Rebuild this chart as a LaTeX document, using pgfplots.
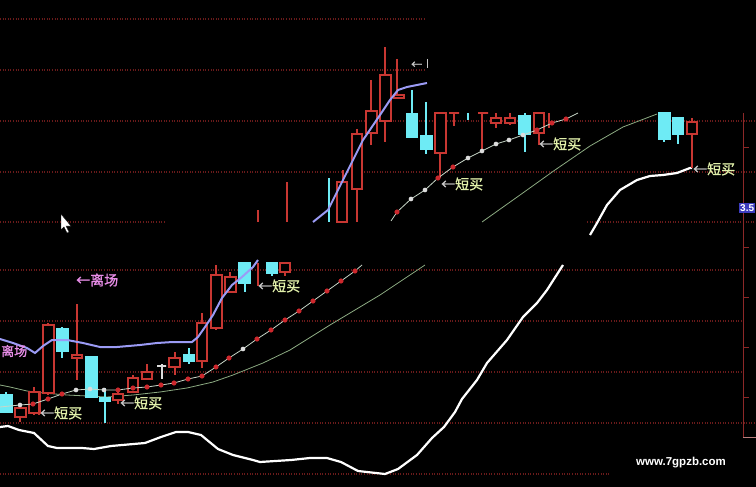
\documentclass[border=0pt]{standalone}
\usepackage{pgfplots}
\pgfplotsset{compat=1.18}
\usepackage{fontspec}
\newfontfamily\cjk{Noto Sans CJK SC}[FakeBold=1.2]
\newfontfamily\wm{Liberation Sans}
\definecolor{gridc}{RGB}{105,26,26}
\definecolor{axc}{RGB}{140,40,40}
\definecolor{cred}{RGB}{200,55,50}
\definecolor{ccyan}{RGB}{110,235,245}
\definecolor{mac}{RGB}{155,155,245}
\definecolor{chainc}{RGB}{200,215,200}
\definecolor{dotred}{RGB}{205,40,45}
\definecolor{dotwhite}{RGB}{220,220,220}
\definecolor{mgreen}{RGB}{140,170,130}
\definecolor{lbl}{RGB}{225,240,170}
\definecolor{pinkl}{RGB}{230,140,230}
\definecolor{arrg}{RGB}{200,200,200}
\definecolor{boxblue}{RGB}{60,60,190}
\pgfplotsset{
  cr/.style={draw=cred, line width=1.2pt, mark=none},
  crbody/.style={cr, fill=black},
  cc/.style={draw=ccyan, line width=1.2pt, mark=none},
  ccbody/.style={cc, fill=ccyan},
  cw/.style={draw=dotwhite, line width=1.2pt, mark=none},
  cwbody/.style={cw, fill=dotwhite},
  gridl/.style={draw=gridc, line width=1.1pt, dash pattern=on 1pt off 1.6pt, mark=none},
}
% style, wick x, body left, body right, body top, body bottom, wick top, wick bottom
\newcommand{\candle}[8]{%
  \addplot[#1] coordinates {(#2,#7) (#2,#8)};
  \addplot[#1body] coordinates {(#3,#5) (#4,#5) (#4,#6) (#3,#6)} -- cycle;
}
\newcommand{\wick}[4]{\addplot[#1] coordinates {(#2,#3) (#2,#4)};}
\newcommand{\gl}[3]{\addplot[gridl] coordinates {(#1,#3) (#2,#3)};}
\newcommand{\buy}{{\color{arrg}←}{\color{lbl}短买}}
\begin{document}
\begin{tikzpicture}
\begin{axis}[
  width=756pt, height=487pt, scale only axis,
  xmin=0, xmax=756, ymin=0, ymax=487, y dir=reverse,
  enlargelimits=false, ticks=none,
  axis line style={draw=none},
  axis background/.style={fill=black},
]
% ---------- grid lines ----------
\gl{0}{425}{19}
\gl{0}{425}{70}
\gl{0}{756}{121}
\gl{0}{756}{172}
\gl{0}{165}{222}
\gl{587}{756}{222}
\gl{0}{742}{270}
\gl{0}{742}{321}
\gl{0}{742}{372}
\gl{0}{756}{423}
\gl{0}{610}{474}
% right axis
\addplot[draw=axc, line width=1pt] coordinates {(743,113) (743,437)};
\addplot[draw=axc!60!white, line width=0.8pt] coordinates {(743,437) (756,437)};
\addplot[draw=axc, line width=0.8pt] coordinates {(743,147) (749,147)};
\addplot[draw=axc, line width=0.8pt] coordinates {(743,247) (749,247)};
\addplot[draw=axc, line width=0.8pt] coordinates {(743,297) (749,297)};
\addplot[draw=axc, line width=0.8pt] coordinates {(743,347) (749,347)};
\addplot[draw=axc, line width=0.8pt] coordinates {(743,397) (749,397)};
% ---------- thin green lines ----------
\addplot[draw=mgreen, line width=0.8pt, mark=none] coordinates {
 (0,385) (10,387) (27,391) (43,393) (67,395) (87,396) (107,397) (133,395) (160,392)
 (187,388) (213,382) (233,375) (263,363) (290,350) (330,325) (380,295) (425,265)};
\addplot[draw=mgreen, line width=0.8pt, mark=none] coordinates {
 (482,222) (520,195) (555,170) (590,146) (623,127) (657,114)};
% ---------- white thick line ----------
\addplot[draw=white, line width=2.2pt, mark=none] coordinates {
 (0,427) (8,426) (19,430) (34,433) (48,446) (57,448) (82,448) (94,449) (111,446)
 (145,443) (161,437) (176,432) (188,432) (201,435) (218,449) (233,455) (253,460)
 (260,462) (291,460) (310,458) (327,458) (341,462) (358,471) (385,474) (398,469)
 (417,455) (432,438) (444,427) (455,412) (462,399) (477,380) (487,363) (507,340)
 (523,317) (537,303) (547,290) (563,265)};
\addplot[draw=white, line width=2.2pt, mark=none] coordinates {
 (590,235) (597,223) (607,205) (620,190) (637,180) (650,176) (663,175) (677,173) (690,168) (692,168)};
% ---------- upper chart candles ----------
\wick{cr}{258}{210}{222}
\wick{cr}{287}{182}{222}
\wick{cc}{329}{178}{222}
\candle{cr}{343}{337}{347}{182}{222}{170}{222}
\candle{cr}{357}{352}{362}{134}{189}{129}{222}
\candle{cr}{371}{366}{377}{111}{133}{80}{145}
\candle{cr}{385}{380}{391}{75}{121}{47}{142}
\candle{cr}{397}{394}{404}{95}{98}{59}{98}
\candle{cc}{412}{407}{417}{114}{137}{90}{138}
\candle{cc}{426}{421}{432}{136}{149}{102}{154}
\candle{cr}{440}{435}{446}{113}{153}{113}{178}
% upper MA line
\addplot[draw=mac, line width=2pt, mark=none] coordinates {
 (313,222) (328,210) (347,172) (363,140) (380,115) (390,100) (398,90) (407,87) (427,83)};
% ---------- upper-right candles ----------
\candle{cr}{454}{449}{459}{113}{113}{113}{126}
\wick{cc}{468}{113}{120}
\candle{cr}{482}{478}{488}{113}{113}{113}{152}
\candle{cr}{496}{491}{501}{118}{123}{113}{128}
\candle{cr}{510}{505}{515}{118}{123}{113}{125}
\candle{cc}{525}{519}{530}{116}{134}{113}{152}
\candle{cr}{539}{534}{544}{113}{133}{113}{145}
\wick{cr}{549}{113}{128}
\candle{cc}{664}{659}{670}{113}{139}{113}{142}
\candle{cc}{678}{673}{683}{118}{134}{118}{144}
\candle{cr}{692}{687}{697}{122}{134}{118}{168}
% upper dot chain
\addplot[draw=chainc, line width=0.8pt, mark=none] coordinates {
 (391,221) (397,212) (411,199) (425,190) (438,178) (453,167) (468,158) (482,151)
 (496,144) (509,140) (523,135) (537,130) (552,123) (566,119) (578,113)};
\addplot[only marks, mark=*, mark size=2.3pt, mark options={fill=dotred, draw=dotred}] coordinates {
 (397,212) (438,178) (453,167) (537,130) (552,123) (566,119)};
\addplot[only marks, mark=*, mark size=2.1pt, mark options={fill=dotwhite, draw=dotwhite}] coordinates {
 (411,199) (425,190) (468,158) (482,151) (496,144) (509,140) (523,135)};
% ---------- lower chart candles ----------
\candle{cc}{6}{1}{12}{395}{412}{392}{413}
\candle{cr}{20}{15}{26}{408}{417}{407}{422}
\candle{cr}{34}{29}{40}{392}{413}{387}{415}
\wick{cr}{39}{393}{415}
\candle{cr}{48}{43}{54}{325}{393}{323}{395}
\candle{cc}{62}{57}{68}{329}{351}{327}{358}
\candle{cr}{77}{72}{82}{355}{358}{304}{380}
\candle{cc}{91}{86}{97}{357}{397}{357}{398}
\candle{cc}{105}{100}{110}{398}{401}{388}{423}
\candle{cr}{118}{113}{123}{394}{400}{390}{404}
\candle{cr}{133}{128}{138}{378}{392}{375}{392}
\candle{cr}{147}{142}{152}{372}{379}{364}{379}
\candle{cw}{162}{157}{166}{366}{366}{364}{379}
\candle{cr}{175}{169}{180}{358}{367}{352}{375}
\candle{cc}{189}{184}{194}{355}{361}{348}{364}
\candle{cr}{202}{197}{207}{323}{361}{313}{368}
\candle{cr}{216}{211}{222}{275}{328}{265}{330}
\candle{cr}{230}{225}{236}{277}{292}{272}{293}
\candle{cc}{245}{239}{250}{263}{283}{263}{292}
\wick{cr}{258}{263}{286}
\candle{cc}{272}{267}{277}{263}{273}{263}{276}
\candle{cr}{285}{280}{290}{263}{272}{263}{276}
% lower MA line
\addplot[draw=mac, line width=2pt, mark=none] coordinates {
 (0,339) (13,343) (27,348) (35,353) (43,346) (52,340) (67,340) (83,343) (100,347)
 (117,347) (140,345) (157,343) (173,342) (192,342) (198,337) (205,327) (213,315)
 (222,298) (232,285) (242,277) (253,267) (258,260)};
% lower dot chain
\addplot[draw=chainc, line width=0.8pt, mark=none] coordinates {
 (0,407) (20,405) (33,404) (48,399) (62,394) (76,390) (90,389) (104,390) (118,390)
 (133,388) (147,387) (161,385) (174,383) (188,379) (202,376) (216,367) (229,358)
 (243,349) (257,339) (271,330) (285,320) (299,311) (313,301) (327,291) (341,281)
 (355,271) (362,265)};
\addplot[only marks, mark=*, mark size=2.3pt, mark options={fill=dotred, draw=dotred}] coordinates {
 (33,404) (48,399) (62,394) (118,390) (133,388) (147,387) (161,385) (174,383) (188,379)
 (202,376) (216,367) (229,358) (257,339) (271,330) (285,320) (299,311) (313,301)
 (327,291) (341,281) (355,271)};
\addplot[only marks, mark=*, mark size=2.1pt, mark options={fill=dotwhite, draw=dotwhite}] coordinates {
 (20,405) (76,390) (90,389) (104,390) (243,349)};
% mouse cursor
\addplot[fill=white, draw=black, line width=0.4pt, mark=none] coordinates {
 (61,214) (61,230) (64,227) (67,233) (69,232) (66,226) (71,226)} -- cycle;
% ---------- labels ----------
\node[anchor=west, inner sep=0pt, font=\cjk\fontsize{14}{14}\selectfont] at (axis cs:40,413) {\buy};
\node[anchor=west, inner sep=0pt, font=\cjk\fontsize{14}{14}\selectfont] at (axis cs:120,403) {\buy};
\node[anchor=west, inner sep=0pt, font=\cjk\fontsize{14}{14}\selectfont] at (axis cs:258,286) {\buy};
\node[anchor=west, inner sep=0pt, font=\cjk\fontsize{14}{14}\selectfont] at (axis cs:441,184) {\buy};
\node[anchor=west, inner sep=0pt, font=\cjk\fontsize{14}{14}\selectfont] at (axis cs:539,144) {\buy};
\node[anchor=west, inner sep=0pt, font=\cjk\fontsize{14}{14}\selectfont] at (axis cs:693,169) {\buy};
\node[anchor=west, inner sep=0pt, text=pinkl, font=\cjk\fontsize{14}{14}\selectfont] at (axis cs:76,280) {←离场};
\node[anchor=west, inner sep=0pt, text=pinkl, font=\cjk\fontsize{13}{13}\selectfont] at (axis cs:1,351) {离场};
\node[anchor=west, inner sep=0pt, text=arrg, font=\cjk\fontsize{11}{11}\selectfont] at (axis cs:411,65) {←};
\addplot[draw=arrg, line width=0.6pt, mark=none] coordinates {(427,59) (427,68)};
\node[anchor=east, inner sep=1.2pt, fill=boxblue, text=white, font=\wm\bfseries\fontsize{10}{10}\selectfont] at (axis cs:755.5,208) {3.5};
\node[anchor=west, inner sep=0pt, text=white, font=\wm\bfseries\fontsize{11.5}{12}\selectfont] at (axis cs:636,463) {www.7gpzb.com};
\coordinate (bl) at (rel axis cs:0,0);
\coordinate (tr) at (rel axis cs:1,1);
\end{axis}
\pgfresetboundingbox
\path[use as bounding box] (bl) rectangle (tr);
\end{tikzpicture}
\end{document}
